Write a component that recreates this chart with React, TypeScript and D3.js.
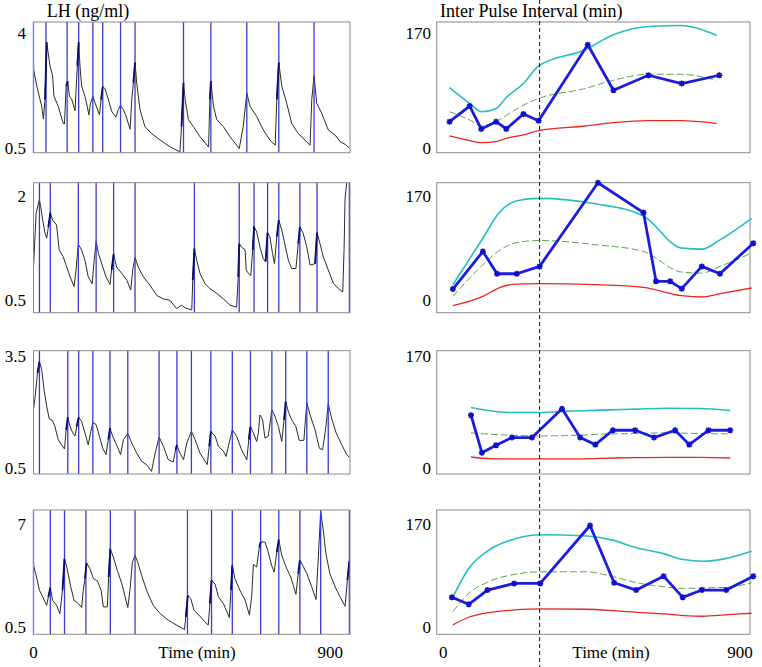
import React from 'react';
import * as d3 from 'd3';

// LH concentration, [time (min), ng/ml], one array per subject
const lh1 = [[0,2.92],[10,2.40],[25,1.78],[30,1.39],[35,1.99],[40,3.74],[50,3.02],[58,2.71],[62,2.09],[75,1.78],[90,1.26],[94,1.24],[99,2.40],[104,2.55],[109,2.09],[116,1.99],[126,1.65],[133,3.02],[137,3.74],[141,3.02],[146,2.40],[156,2.09],[163,1.78],[168,1.52],[173,1.88],[180,2.09],[187,1.88],[200,1.52],[205,1.99],[210,2.38],[217,2.32],[227,1.99],[237,1.63],[250,1.45],[257,1.68],[264,1.80],[273,1.68],[281,1.47],[293,1.08],[298,1.99],[303,2.50],[308,3.12],[313,2.50],[323,1.68],[338,1.16],[358,0.95],[384,0.75],[414,0.54],[444,0.39],[449,1.16],[455,2.50],[460,1.99],[470,1.37],[485,1.16],[505,0.85],[531,0.54],[535,1.99],[538,2.55],[546,1.78],[556,1.37],[576,1.16],[596,0.85],[624,0.49],[636,1.16],[647,2.19],[657,1.78],[677,1.47],[697,1.06],[717,0.75],[733,0.59],[738,1.99],[744,3.12],[753,2.40],[768,1.88],[783,1.26],[803,0.95],[839,0.59],[844,1.99],[851,2.71],[859,1.88],[874,1.57],[894,1.06],[915,0.90],[930,0.70],[945,0.62],[958,0.51]];
const lh2 = [[0,0.98],[3,1.27],[8,1.76],[18,1.96],[22,1.85],[28,1.66],[35,1.47],[40,1.40],[45,1.56],[51,1.77],[58,1.66],[70,1.59],[78,1.23],[90,1.13],[101,0.98],[111,0.84],[123,0.70],[129,0.94],[136,1.31],[146,1.23],[156,1.08],[166,0.84],[178,0.74],[183,1.03],[190,1.35],[197,1.18],[207,1.03],[220,0.84],[232,0.73],[237,0.94],[243,1.17],[252,0.98],[268,0.89],[283,0.79],[295,0.65],[301,0.94],[308,1.12],[318,0.98],[333,0.84],[353,0.72],[374,0.57],[394,0.52],[414,0.50],[434,0.38],[449,0.43],[460,0.39],[480,0.36],[483,0.79],[488,1.25],[495,1.08],[505,0.89],[520,0.74],[535,0.67],[556,0.60],[576,0.52],[596,0.43],[616,0.40],[621,0.84],[624,1.32],[631,1.27],[642,1.23],[645,0.94],[652,0.89],[659,0.86],[665,1.23],[669,1.57],[677,1.49],[687,1.27],[697,1.10],[704,1.06],[707,1.27],[710,1.48],[717,1.42],[725,1.18],[731,1.03],[738,1.42],[744,1.66],[753,1.52],[763,1.30],[773,1.08],[783,0.96],[796,0.96],[803,1.32],[808,1.56],[818,1.47],[829,1.27],[839,1.01],[854,1.03],[860,1.48],[869,1.32],[879,1.13],[894,0.94],[910,0.74],[925,0.67],[938,0.62],[942,1.23],[945,1.98],[950,2.20]];
const lh3 = [[0,2.06],[5,2.41],[12,3.04],[18,3.35],[25,3.13],[32,2.59],[40,2.15],[48,1.81],[58,1.77],[65,1.61],[75,1.26],[85,1.12],[94,1.01],[99,1.52],[104,1.86],[111,1.61],[119,1.44],[126,1.36],[131,1.61],[137,1.86],[146,1.75],[156,1.44],[166,1.12],[173,1.44],[180,1.72],[190,1.66],[200,1.35],[210,1.03],[220,0.86],[227,1.26],[232,1.57],[240,1.35],[252,1.12],[264,0.86],[273,1.26],[286,1.42],[298,1.17],[313,0.90],[328,0.68],[343,0.59],[358,0.41],[369,0.90],[381,1.33],[394,1.08],[409,0.72],[424,0.66],[431,0.99],[435,1.12],[444,0.90],[455,0.72],[465,1.17],[479,1.48],[490,1.26],[505,0.90],[527,0.59],[533,1.08],[538,1.48],[551,1.35],[561,1.08],[576,0.95],[584,0.81],[591,1.08],[603,1.52],[616,1.35],[631,0.99],[647,0.72],[653,1.26],[658,1.61],[667,1.44],[677,1.21],[682,1.44],[687,1.92],[695,1.79],[702,1.30],[712,1.35],[723,2.06],[731,1.92],[743,1.61],[753,1.21],[760,1.79],[765,2.28],[773,2.01],[783,1.79],[796,1.61],[806,1.24],[820,1.24],[829,2.25],[839,1.92],[854,1.52],[867,1.03],[877,0.99],[887,1.61],[894,2.22],[904,1.84],[918,1.44],[935,1.12],[950,0.86],[958,0.79]];
const lh4 = [[0,4.42],[8,3.79],[18,2.85],[28,2.43],[40,1.90],[45,2.43],[51,3.02],[58,2.22],[70,1.90],[80,1.38],[88,2.85],[94,4.84],[101,4.32],[113,3.06],[123,2.22],[136,2.01],[146,1.76],[151,2.85],[156,3.58],[161,4.57],[171,4.21],[182,3.58],[194,3.44],[205,2.85],[212,1.80],[224,1.80],[228,3.69],[233,5.47],[242,4.95],[254,4.11],[268,3.27],[278,2.43],[286,1.76],[293,2.95],[300,4.63],[308,5.05],[316,4.63],[328,3.79],[343,2.85],[363,1.90],[384,1.38],[409,0.96],[434,0.65],[458,0.37],[462,1.17],[468,2.53],[477,2.32],[487,1.59],[505,1.21],[520,0.86],[530,0.65],[535,2.01],[540,3.48],[551,3.23],[561,2.43],[576,2.01],[594,1.13],[599,2.85],[603,4.42],[611,3.58],[626,2.85],[642,2.22],[655,1.28],[662,2.53],[667,4.48],[677,4.32],[685,5.57],[689,5.89],[702,5.89],[712,5.26],[722,4.42],[730,4.00],[738,5.26],[744,6.04],[753,5.05],[766,4.32],[780,3.69],[788,3.16],[796,2.60],[803,3.90],[808,4.74],[818,4.36],[829,3.90],[844,3.06],[857,2.26],[864,4.95],[871,7.84],[879,6.62],[887,5.16],[899,3.90],[915,3.06],[930,2.43],[945,1.84],[952,3.48],[958,4.69]];

// detected pulse times (min)
const pulses1 = [0, 38, 102, 137, 180, 210, 264, 308, 455, 538, 647, 744, 851];
const pulses2 = [18, 51, 136, 190, 243, 308, 488, 624, 669, 710, 744, 808, 860, 958];
const pulses3 = [18, 104, 137, 180, 232, 286, 381, 435, 479, 538, 603, 658, 723, 765, 829, 894];
const pulses4 = [0, 51, 94, 159, 233, 308, 467, 540, 603, 689, 744, 808, 871, 958];

// inter pulse interval (min) and model bands, [time, value]
const ipi1 = [[19,39.4],[80,62.6],[115,28.6],[160,39.4],[191,28.6],[243,50.8],[289,40.9],[438,153.8],[516,86.2],[622,108.4],[723,96.1],[837,108.4]];
const upper1 = [[19,90.2],[80,66.5],[117,54.2],[160,59.1],[193,76.4],[243,96.1],[289,122.2],[430,146.4],[516,168.6],[622,180.9],[718,182.4],[829,167.6]];
const mean1 = [[19,54.2],[80,41.9],[115,33],[160,39.4],[193,49.3],[243,64.1],[289,73.9],[430,88.7],[516,101],[622,109.9],[718,109.9],[829,101]];
const lower1 = [[19,18.2],[80,11.3],[117,8.4],[160,9.9],[193,14.8],[243,19.7],[289,26.1],[430,33],[516,37.9],[622,40.9],[718,40.9],[829,37]];

const ipi2 = [[29,18.5],[120,80.1],[163,43.6],[223,43.6],[292,55.6],[469,192.9],[607,143.9],[645,31.1],[688,31.1],[723,19.1],[784,55.6],[839,43.6],[940,93.7]];
const upper2 = [[29,25.6],[120,101.9],[168,142.8],[223,163.5],[289,167.3],[466,158],[607,138.4],[723,85.6],[784,83.9],[839,99.2],[935,134.6]];
const mean2 = [[29,6.5],[120,58.3],[173,82.8],[223,94.8],[289,98.1],[466,91],[607,80.1],[723,46.3],[784,44.7],[839,55.6],[935,77.4]];
const lower2 = [[29,-8.7],[120,6.5],[173,21.3],[223,26.7],[289,27.2],[466,25.6],[607,21.3],[723,7.6],[784,5.4],[839,10.9],[935,20.2]];

const ipi3 = [[84,80.2],[117,23.3],[160,34.5],[208,46.2],[269,46.2],[360,89.8],[415,46.2],[461,35.5],[514,57.3],[582,57.3],[639,46.2],[703,57.3],[746,35.5],[804,57.3],[870,57.3]];
const upper3 = [[84,91.8],[142,86.8],[208,84.2],[294,84.2],[375,86.3],[476,87.8],[577,89.3],[678,90.8],[779,90.3],[870,87.3]];
const mean3 = [[84,53.3],[142,51.2],[208,49.7],[294,48.7],[375,49.2],[476,51.2],[577,52.3],[678,53.3],[779,52.3],[870,51.8]];
const lower3 = [[84,16.7],[142,14.2],[208,13.7],[294,13.7],[375,13.7],[476,14.7],[577,15.7],[678,16.2],[779,16.2],[870,15.2]];

const ipi4 = [[26,49.8],[77,38.3],[134,61.8],[215,72.7],[294,72.7],[445,168.4],[518,73.8],[585,61.8],[668,84.7],[726,49.8],[784,61.8],[858,61.8],[940,84.7]];
const upper4 = [[29,49.8],[77,97.3],[137,127.4],[218,146.5],[294,153.1],[435,150.9],[516,143.8],[577,132.9],[668,121.9],[728,112.1],[789,109.3],[855,113.7],[935,125.8]];
const mean4 = [[29,26.2],[77,56.3],[137,75.5],[218,88],[294,91.9],[435,91.9],[516,83.7],[597,72.7],[668,67.3],[728,64.5],[789,65.6],[855,66.2],[935,73.8]];
const lower4 = [[29,4.4],[77,16.9],[137,24.6],[218,29],[294,30.6],[435,30.1],[516,27.9],[597,24.6],[668,22.4],[728,19.7],[789,18.6],[855,20.8],[935,23.5]];

const lhTicks = [[0.5, 4], [0.5, 2], [0.5, 3.5], [0.5, 7]];
const ipiTicks = [0, 170];
const timeTicks = [0, 900];
const changeTime = 292; // dashed marker

const lhData = [lh1, lh2, lh3, lh4];
const pulseData = [pulses1, pulses2, pulses3, pulses4];
const ipiData = [ipi1, ipi2, ipi3, ipi4];
const upperData = [upper1, upper2, upper3, upper4];
const meanData = [mean1, mean2, mean3, mean4];
const lowerData = [lower1, lower2, lower3, lower4];

// layout
const FONT = '"Liberation Serif", "Times New Roman", serif';
const rows = [
  { top: 22, bottom: 152.7, lo: 148.2, hi: 33.8 },
  { top: 182.7, bottom: 312.7, lo: 300.3, hi: 196.7 },
  { top: 350.7, bottom: 474, lo: 468, hi: 356 },
  { top: 510, bottom: 634.3, lo: 627.5, hi: 524.5 },
];
const xLeft = d3.scaleLinear().domain([0, 960]).range([33.5, 350]);
const xRight = d3.scaleLinear().domain([-20, 930]).range([436.7, 750]);

const star = 'M-3,0H3M0,-3V3M-2.2,-2.2L2.2,2.2M-2.2,2.2L2.2,-2.2';

function LeftPanel({ i }) {
  const r = rows[i];
  const y = d3.scaleLinear().domain(lhTicks[i]).range([r.lo, r.hi]);
  const line = d3.line().x(d => xLeft(d[0])).y(d => y(d[1]));
  const [x0, x1] = xLeft.range();
  // rising stretch right before each pulse is drawn darker
  const rises = pulseData[i].map(p => lhData[i].filter(d => d[0] >= p - 6 && d[0] <= p + 2))
    .filter(s => s.length > 1);
  return (
    <g>
      <clipPath id={`clipL${i}`}>
        <rect x={x0} y={r.top} width={x1 - x0} height={r.bottom - r.top} />
      </clipPath>
      <g clipPath={`url(#clipL${i})`}>
        <path d={line(lhData[i])} fill="none" stroke="#2a2a2a" strokeWidth={1} />
      </g>
      {pulseData[i].map((t, k) => (
        <line key={k} x1={xLeft(t)} x2={xLeft(t)} y1={r.top} y2={r.bottom}
              stroke="#3a3ad6" strokeWidth={1.3} />
      ))}
      <g clipPath={`url(#clipL${i})`}>
        {rises.map((s, k) => (
          <path key={k} d={line(s)} fill="none" stroke="#0b0b6e" strokeWidth={1.8} />
        ))}
      </g>
      <rect x={x0} y={r.top} width={x1 - x0} height={r.bottom - r.top}
            fill="none" stroke="#8a8a8a" strokeWidth={1} />
      {lhTicks[i].map((v, k) => (
        <text key={k} x={26} y={y(v)} textAnchor="end" dominantBaseline="central"
              fontFamily={FONT} fontSize={17}>{v}</text>
      ))}
    </g>
  );
}

function RightPanel({ i }) {
  const r = rows[i];
  const y = d3.scaleLinear().domain(ipiTicks).range([r.lo, r.hi]);
  const smooth = d3.line().x(d => xRight(d[0])).y(d => y(d[1])).curve(d3.curveMonotoneX);
  const straight = d3.line().x(d => xRight(d[0])).y(d => y(d[1]));
  const [x0, x1] = xRight.range();
  return (
    <g>
      <rect x={x0} y={r.top} width={x1 - x0} height={r.bottom - r.top}
            fill="none" stroke="#8a8a8a" strokeWidth={1} />
      <path d={smooth(lowerData[i])} fill="none" stroke="#e8281f" strokeWidth={1.3} />
      <path d={smooth(meanData[i])} fill="none" stroke="#4f9a3c" strokeWidth={0.9} strokeDasharray="7,3" />
      <path d={smooth(upperData[i])} fill="none" stroke="#25bfc0" strokeWidth={1.6} />
      <path d={straight(ipiData[i])} fill="none" stroke="#1c1ce0" strokeWidth={2.8} strokeLinejoin="round" />
      {ipiData[i].map((d, k) => (
        <path key={k} d={star} transform={`translate(${xRight(d[0])},${y(d[1])})`}
              stroke="#1010c8" strokeWidth={1.6} fill="none" />
      ))}
      {ipiTicks.map((v, k) => (
        <text key={k} x={431} y={y(v)} textAnchor="end" dominantBaseline="central"
              fontFamily={FONT} fontSize={17}>{v}</text>
      ))}
    </g>
  );
}

export default function App() {
  const cx = xRight(changeTime);
  return (
    <svg width={762} height={667} style={{ position: 'absolute', left: 0, top: 0, background: '#fff' }}>
      <rect width={762} height={667} fill="#fff" />
      {rows.map((_, i) => <LeftPanel key={`l${i}`} i={i} />)}
      {rows.map((_, i) => <RightPanel key={`r${i}`} i={i} />)}
      <line x1={cx} x2={cx} y1={0} y2={667} stroke="#111" strokeWidth={1} strokeDasharray="4,3" />
      <text x={88} y={17} textAnchor="middle" fontFamily={FONT} fontSize={18}>LH (ng/ml)</text>
      <text x={440} y={17} fontFamily={FONT} fontSize={18}>Inter Pulse Interval (min)</text>
      {timeTicks.map((t, k) => (
        <text key={`tl${k}`} x={xLeft(t)} y={658} textAnchor="middle" fontFamily={FONT} fontSize={17}>{t}</text>
      ))}
      {timeTicks.map((t, k) => (
        <text key={`tr${k}`} x={xRight(t)} y={658} textAnchor="middle" fontFamily={FONT} fontSize={17}>{t}</text>
      ))}
      <text x={197} y={658} textAnchor="middle" fontFamily={FONT} fontSize={17}>Time (min)</text>
      <text x={611} y={658} textAnchor="middle" fontFamily={FONT} fontSize={17}>Time (min)</text>
    </svg>
  );
}
